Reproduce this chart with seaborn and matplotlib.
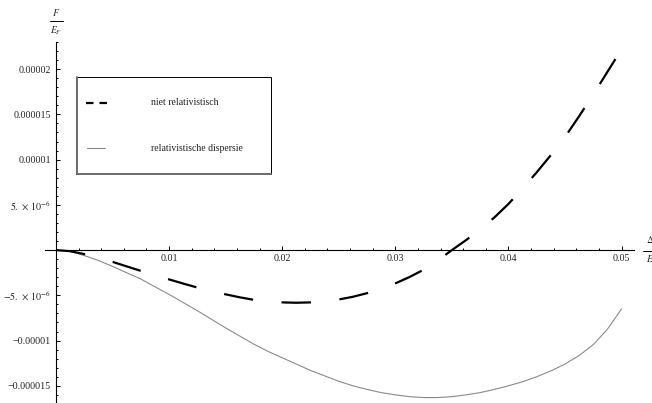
import numpy as np
import pandas as pd
import seaborn as sns
import matplotlib.pyplot as plt
from matplotlib.lines import Line2D
from matplotlib.patches import Rectangle
from matplotlib.ticker import FixedLocator, FixedFormatter, MultipleLocator

# Delta / E_F sample points
delta = [0.0, 0.00125, 0.0025, 0.00375, 0.005, 0.00625, 0.0075, 0.00875,
         0.01, 0.01125, 0.0125, 0.01375, 0.015, 0.01625, 0.0175, 0.01875,
         0.02, 0.02125, 0.0225, 0.02375, 0.025, 0.02625, 0.0275, 0.02875,
         0.03, 0.03125, 0.0325, 0.03375, 0.035, 0.03625, 0.0375, 0.03875,
         0.04, 0.04125, 0.0425, 0.04375, 0.045, 0.04625, 0.0475, 0.04875, 0.05]
# F / E_F, non-relativistic dispersion (units of 1e-6)
f_nonrel = [0.0, -0.12, -0.44, -0.85, -1.30, -1.80, -2.30, -2.78,
            -3.24, -3.70, -4.14, -4.53, -4.89, -5.22, -5.50, -5.68,
            -5.78, -5.82, -5.78, -5.66, -5.46, -5.16, -4.76, -4.27,
            -3.68, -2.98, -2.17, -1.15, 0.0, 1.1, 2.3, 3.6,
            5.1, 6.8, 8.6, 10.5, 12.5, 14.8, 17.2, 19.7, 22.2]
# F / E_F, relativistic dispersion (units of 1e-6)
f_rel = [0.0, -0.15, -0.6, -1.15, -1.8, -2.5, -3.2, -4.05,
         -4.9, -5.8, -6.7, -7.65, -8.6, -9.5, -10.4, -11.2,
         -11.9, -12.6, -13.3, -13.9, -14.5, -15.0, -15.4, -15.75,
         -16.0, -16.2, -16.3, -16.3, -16.2, -16.0, -15.75, -15.4,
         -15.0, -14.55, -14.0, -13.35, -12.6, -11.65, -10.45, -8.75, -6.5]

series_labels = ["niet relativistisch", "relativistische dispersie"]
x_ticks = [0.01, 0.02, 0.03, 0.04, 0.05]
x_tick_labels = ["0.01", "0.02", "0.03", "0.04", "0.05"]
y_ticks = [-1.5e-5, -1e-5, -5e-6, 5e-6, 1e-5, 1.5e-5, 2e-5]
y_tick_labels = ["\u22120.000015", "\u22120.00001", r"$-5.\,\times\,10^{-6}$",
                 r"$5.\,\times\,10^{-6}$", "0.00001", "0.000015", "0.00002"]

sns.set_theme(style="white")
plt.rcParams["font.family"] = ["Liberation Serif", "DejaVu Serif"]
plt.rcParams["mathtext.fontset"] = "stix"
plt.rcParams["lines.scale_dashes"] = False

W, H = 652, 403
def fx(x):
    return x / W
def fy(y):
    return 1 - y / H

df = pd.DataFrame({
    "delta": delta * 2,
    "F": [v * 1e-6 for v in f_nonrel] + [v * 1e-6 for v in f_rel],
    "model": [series_labels[0]] * len(delta) + [series_labels[1]] * len(delta),
})

fig = plt.figure(figsize=(W / 100, H / 100), dpi=100)
ax = fig.add_axes([fx(45), 0, fx(634) - fx(45), fy(42)])

sns.lineplot(data=df[df.model == series_labels[1]], x="delta", y="F", ax=ax,
             color="#8a8a8a", lw=0.8, legend=False, sort=True)
sns.lineplot(data=df[df.model == series_labels[0]], x="delta", y="F", ax=ax,
             color="black", lw=1.6, legend=False, sort=True)
dashed = ax.get_lines()[-1]
dashed.set_dashes((21.2, 20.6))
dashed.set_dash_capstyle("butt")

ax.set_xlim(-0.00097, 0.0511)
ax.set_ylim(-1.69e-5, 2.30e-5)

# axes crossing at the origin
for side in ("top", "right"):
    ax.spines[side].set_visible(False)
for side in ("left", "bottom"):
    ax.spines[side].set_position(("data", 0))
    ax.spines[side].set_color("black")
    ax.spines[side].set_linewidth(0.8)

ax.xaxis.set_major_locator(FixedLocator(x_ticks))
ax.xaxis.set_major_formatter(FixedFormatter(x_tick_labels))
ax.xaxis.set_minor_locator(MultipleLocator(0.002))
ax.yaxis.set_major_locator(FixedLocator(y_ticks))
ax.yaxis.set_major_formatter(FixedFormatter(y_tick_labels))
ax.yaxis.set_minor_locator(MultipleLocator(1e-6))

ax.tick_params(which="both", direction="in", color="black", width=0.7,
               labelsize=7.2, labelcolor="#222222")
ax.tick_params(which="major", length=2.6)
ax.tick_params(which="minor", length=1.5)
ax.tick_params(axis="x", which="both", bottom=True, pad=3)
ax.tick_params(axis="y", which="both", left=True, pad=3.5)
ax.set_xlabel("")
ax.set_ylabel("")
ax.grid(False)
ax.patch.set_alpha(0)

# axis labels as stacked fractions
fig.text(fx(56.3), fy(12.7), r"$F$", ha="center", va="center", fontsize=7)
fig.add_artist(Line2D([fx(50), fx(62.7)], [fy(20.5), fy(20.5)], color="black", lw=0.7))
fig.text(fx(56.3), fy(31.2), r"$E_F$", ha="center", va="center", fontsize=7)

fig.text(fx(650), fy(239.5), r"$\Delta$", ha="center", va="center", fontsize=7)
fig.add_artist(Line2D([fx(643), fx(660)], [fy(250.5), fy(250.5)], color="black", lw=0.7))
fig.text(fx(652), fy(260), r"$E_F$", ha="center", va="center", fontsize=7)

# legend box
fig.add_artist(Rectangle((fx(76), fy(174)), fx(270.7) - fx(76), fy(77.3) - fy(174),
                         facecolor="white", edgecolor="black", lw=0.7, zorder=5))
fig.add_artist(Line2D([fx(76.5), fx(76.5), fx(270.7)], [fy(77.3), fy(173.5), fy(173.5)],
                      color="#6e6e6e", lw=1.4, zorder=6))
fig.add_artist(Line2D([fx(86), fx(106.7)], [fy(102.7), fy(102.7)], color="black", lw=1.6,
                      dashes=(5.4, 4.3), dash_capstyle="butt", zorder=7))
fig.add_artist(Line2D([fx(86.7), fx(105)], [fy(148.3), fy(148.3)], color="#8a8a8a",
                      lw=0.8, zorder=7))
fig.text(fx(150.7), fy(102.7), series_labels[0], ha="left", va="center", fontsize=7,
         color="#222222", zorder=7)
fig.text(fx(150.7), fy(148.3), series_labels[1], ha="left", va="center", fontsize=7,
         color="#222222", zorder=7)

fig.savefig("out.png", dpi=100, facecolor="white")
